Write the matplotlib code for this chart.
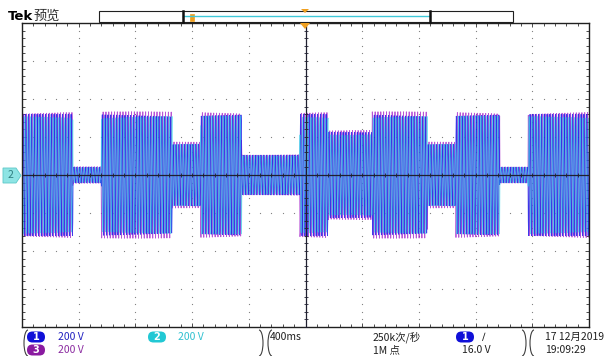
import numpy as np
import matplotlib.pyplot as plt
from matplotlib.patches import Polygon, Rectangle, Arc, FancyBboxPatch

plt.rcParams['font.family'] = ['Noto Sans CJK SC', 'DejaVu Sans']

# scope settings
volts_per_div = 200
sec_per_div = 0.4
line_freq_hz = 50.03
n_display = 2000

# voltage sag events: segment edges (s) and peak voltage (V) of each segment
seg_edges_s = [-2.0, -1.64, -1.44, -0.94, -0.74, -0.45, -0.04, 0.16,
               0.47, 0.86, 1.06, 1.37, 1.57, 2.0]
seg_peak_v = [320, 42, 320, 168, 320, 105, 320, 226, 320, 168, 320, 42, 320]

# three phases on channels 1..3
channel_names = ['1', '2', '3']
channel_colors = ['#1a1ae8', '#1ed6e6', '#a21cc8']
channel_alpha = [0.85, 0.6, 0.75]
channel_phase_deg = [0, 120, 240]
channel_gain = [1.0, 0.97, 1.04]
draw_order = [2, 0, 1]

t = np.linspace(-5 * sec_per_div, 5 * sec_per_div, n_display)
seg_idx = np.clip(np.searchsorted(seg_edges_s, t, side='right') - 1, 0, len(seg_peak_v) - 1)
envelope = np.asarray(seg_peak_v, dtype=float)[seg_idx]

fig = plt.figure(figsize=(6.08, 3.56), dpi=100)
ax = fig.add_axes([22 / 608, 1 - 327 / 356, 567 / 608, 304 / 356])
ax.set_xlim(-5 * sec_per_div, 5 * sec_per_div)
ax.set_ylim(-4 * volts_per_div, 4 * volts_per_div)

for k in draw_order:
    v = channel_gain[k] * envelope * np.sin(2 * np.pi * line_freq_hz * t
                                              + np.deg2rad(channel_phase_deg[k]))
    ax.plot(t, v, color=channel_colors[k], lw=0.6, alpha=channel_alpha[k])

# graticule: dotted division lines, center cross, border ticks
xdiv = np.arange(-5, 6) * sec_per_div
ydiv = np.arange(-4, 5) * volts_per_div
xminor = np.arange(-25, 26) * sec_per_div / 5
yminor = np.arange(-20, 21) * volts_per_div / 5
for x in xdiv[1:-1]:
    if abs(x) > 1e-9:
        ax.scatter(np.full_like(yminor, x), yminor, s=0.8, color='#808080', lw=0, zorder=0)
for y in ydiv[1:-1]:
    if abs(y) > 1e-9:
        ax.scatter(xminor, np.full_like(xminor, y), s=0.8, color='#808080', lw=0, zorder=0)
ax.axhline(0, color='#202030', lw=0.9, zorder=5)
ax.axvline(0, color='#202030', lw=0.9, zorder=5)
ax.scatter(xminor, np.zeros_like(xminor), marker='|', s=12, color='#202030', lw=0.6, zorder=5)
ax.scatter(np.zeros_like(yminor), yminor, marker='_', s=12, color='#202030', lw=0.6, zorder=5)

ax.set_xticks(xdiv)
ax.set_yticks(ydiv)
ax.set_xticks(xminor, minor=True)
ax.set_yticks(yminor, minor=True)
ax.tick_params(which='both', direction='in', top=True, right=True,
               labelbottom=False, labelleft=False, color='#303030', width=0.6)
ax.tick_params(which='major', length=3)
ax.tick_params(which='minor', length=2.5)
for s in ax.spines.values():
    s.set_color('#202020')
    s.set_linewidth(1.0)

# screen decorations in pixel coordinates
ov = fig.add_axes([0, 0, 1, 1], zorder=10)
ov.set_xlim(0, 608)
ov.set_ylim(356, 0)
ov.axis('off')
ov.patch.set_alpha(0)

orange = '#f0a020'
ov.text(8, 17, 'Tek', fontsize=9.5, fontweight='bold', va='center', ha='left',
        family=['DejaVu Sans'])
ov.text(34, 16.5, '预览', fontsize=9.5, va='center', ha='left', color='#303030')

# record view bar
ov.add_patch(Rectangle((99, 11), 414, 11, fill=False, ec='#202020', lw=0.8))
ov.plot([183, 430], [15.5, 15.5], color='#40c8d8', lw=1.0)
ov.plot([183, 183], [11, 22], color='#101010', lw=1.8)
ov.plot([430, 430], [11, 22], color='#101010', lw=1.8)
ov.add_patch(Rectangle((190, 14), 4, 7, fc=orange, ec=orange, lw=0.5))
ov.add_patch(Polygon([[301, 9], [309, 9], [305, 13]], closed=True, fc=orange, ec='none'))
ov.add_patch(Polygon([[300, 23], [310, 23], [305, 29]], closed=True, fc=orange, ec='none'))

# channel 2 ground marker
ov.add_patch(Polygon([[3, 168], [16, 168], [21, 175.5], [16, 183], [3, 183]],
                     closed=True, fc='#8ee4e4', ec='#5cc8c8', lw=0.6))
ov.text(10.5, 175.5, '2', fontsize=7.5, ha='center', va='center', color='#2f7f80')

# status bar brackets
for x0, x1 in [(24, 263), (268, 526), (530, 640)]:
    ov.add_patch(Arc((x0 + 4, 343), 8, 26, theta1=90, theta2=270, color='#404040', lw=0.8))
    ov.add_patch(Arc((x1 - 4, 343), 8, 26, theta1=-90, theta2=90, color='#404040', lw=0.8))


def pill(x, y, label, color):
    ov.add_patch(FancyBboxPatch((x - 9, y - 5.5), 18, 11, fc=color, ec='none',
                                boxstyle='round,pad=0,rounding_size=5.5'))
    ov.text(x, y, label, fontsize=7, ha='center', va='center', color='white',
            fontweight='bold', family=['DejaVu Sans'])


pill(36, 337, '1', '#1010d8')
ov.text(58, 337, '200 V', fontsize=7.5, va='center', color='#2020c0')
pill(157, 337, '2', '#22c8d4')
ov.text(178, 337, '200 V', fontsize=7.5, va='center', color='#30c0d0')
pill(36, 350, '3', '#8a1aa0')
ov.text(58, 350, '200 V', fontsize=7.5, va='center', color='#8a2aa0')

ov.text(270, 337, '400ms', fontsize=7.5, va='center', color='#202020')
ov.text(373, 337, '250k次/秒', fontsize=7.5, va='center', color='#202020')
ov.text(373, 350, '1M 点', fontsize=7.5, va='center', color='#202020')
pill(465, 337, '1', '#1010d8')
ov.text(482, 337, '\u2215', fontsize=7.5, va='center', color='#202020',
        family=['DejaVu Sans'])
ov.text(462, 350, '16.0 V', fontsize=7.5, va='center', color='#202020')
ov.text(545, 337, '17 12月2019', fontsize=7.5, va='center', color='#202020')
ov.text(545, 350, '19:09:29', fontsize=7.5, va='center', color='#202020')

fig.savefig('out.png', dpi=100, facecolor='white')
